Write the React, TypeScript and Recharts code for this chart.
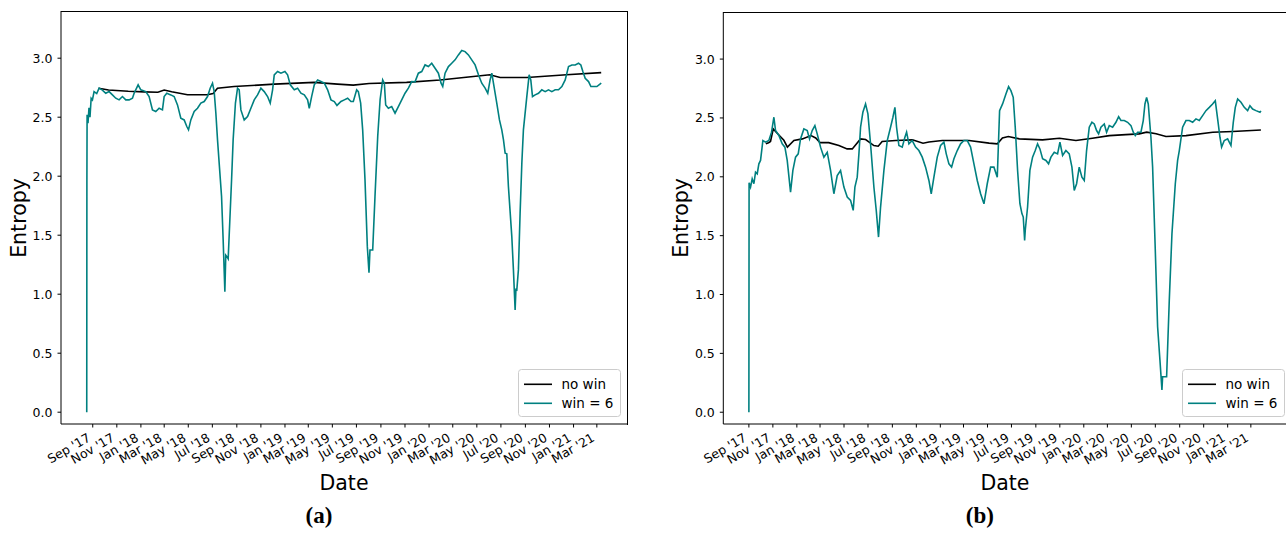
import React from "react";
import { LineChart, Line, XAxis, YAxis } from "recharts";

// ---------- axis ticks ----------
const TICK_MONTHS = ["2017-09","2017-11","2018-01","2018-03","2018-05","2018-07","2018-09","2018-11","2019-01","2019-03","2019-05","2019-07","2019-09","2019-11","2020-01","2020-03","2020-05","2020-07","2020-09","2020-11","2021-01","2021-03"];
const TICK_LABELS = ["Sep '17","Nov '17","Jan '18","Mar '18","May '18","Jul '18","Sep '18","Nov '18","Jan '19","Mar '19","May '19","Jul '19","Sep '19","Nov '19","Jan '20","Mar '20","May '20","Jul '20","Sep '20","Nov '20","Jan '21","Mar '21"];
const Y_TICKS = [0, 0.5, 1, 1.5, 2, 2.5, 3];
const SERIES_NAMES = ["no win", "win = 6"];
const PANEL_LETTERS = ["(a)", "(b)"];
const EPOCH = Date.UTC(2017, 8, 1); // day 0 = 1 Sep 2017

// ---------- panel (a): days since 1 Sep 2017 ----------
const A_WIN_DAYS = [-15.2,-14.8,-14.3,-12,-9.5,-7,-4,-0.8,3.4,10.1,16.1,24.5,33,41.4,49.9,58.3,66.8,75.2,83.7,92.1,100.6,104.8,115,121.7,134.4,142.8,151.3,159.7,168.2,176.6,180.9,187.6,197.8,206.2,214.7,223.1,231.6,238.3,242.6,248.5,257,265.4,273.9,282.3,290.8,297.5,303.4,307.7,311.9,316.1,326.3,330.4,334.7,337,339.5,343.1,351.7,355.7,361.5,366.8,371,375.3,383.7,392.2,400.6,409.1,417.5,426,434.4,442.9,449.6,455.6,459.8,468.3,476.7,486.8,493.6,500.4,510.5,519,527.4,535.9,544.3,548.5,554.5,561.2,569.7,578.1,586.6,595,603.5,611.9,618.7,628.8,637.3,645.7,654.2,660.1,668.6,672.8,678.7,683.8,689.7,695.6,699.8,702.3,709.2,715,721.9,728,734.5,738.7,742.1,748.9,757.3,765.8,774.2,782.7,791.1,799.6,808,816.4,824.9,833.4,841.8,850.3,858.7,867.2,875.6,882.4,886.6,892.5,901,909.4,917.9,926.3,934.8,943.2,951.7,960.1,968.6,977.1,985.5,994,1000.7,1006.6,1010.9,1015.1,1023.5,1030.3,1036.2,1040.5,1044.7,1048.9,1053,1061.6,1065.7,1070,1072,1074.3,1078.3,1082.6,1087,1091,1099.6,1105.5,1109.7,1114,1120.7,1129.2,1137.6,1146.1,1154.5,1163,1171.4,1179.9,1188.4,1196.8,1205.3,1213.7,1222.2,1230.6,1236.5,1241.6,1247.5,1256,1261.9,1268.6,1277.1,1285.6,1288];
const A_WIN_VALUES = [0,1.95,2.52,2.45,2.58,2.5,2.66,2.647,2.717,2.7,2.746,2.73,2.703,2.717,2.689,2.661,2.647,2.675,2.647,2.647,2.661,2.703,2.774,2.732,2.717,2.675,2.562,2.548,2.576,2.562,2.675,2.703,2.689,2.675,2.604,2.491,2.477,2.421,2.393,2.477,2.548,2.576,2.619,2.633,2.675,2.746,2.788,2.717,2.534,2.308,1.83,1.46,1.02,1.33,1.32,1.3,1.97,2.31,2.62,2.746,2.732,2.562,2.477,2.506,2.576,2.647,2.689,2.746,2.717,2.675,2.619,2.732,2.859,2.887,2.873,2.887,2.859,2.774,2.732,2.746,2.703,2.689,2.647,2.576,2.675,2.774,2.816,2.802,2.788,2.732,2.647,2.633,2.6,2.633,2.647,2.661,2.633,2.633,2.732,2.717,2.619,2.393,1.969,1.403,1.183,1.375,1.375,1.827,2.336,2.65,2.816,2.788,2.604,2.576,2.59,2.534,2.59,2.647,2.703,2.746,2.802,2.8,2.873,2.887,2.943,2.929,2.957,2.915,2.873,2.788,2.76,2.873,2.929,2.957,2.986,3.028,3.065,3.056,3.028,2.986,2.943,2.859,2.788,2.746,2.703,2.816,2.873,2.788,2.619,2.477,2.393,2.308,2.195,2.19,1.912,1.488,1.206,0.867,1.04,1.036,1.206,1.686,2.11,2.393,2.675,2.859,2.816,2.675,2.689,2.703,2.732,2.717,2.732,2.717,2.732,2.732,2.76,2.816,2.929,2.943,2.943,2.957,2.943,2.887,2.83,2.802,2.76,2.76,2.76,2.782,2.79];
const A_NOWIN_DAYS = [15,40,90,130,165,181,200,240,290,305,316,358,460,561,620,660,700,795,880,964,1006,1032,1100,1200,1288];
const A_NOWIN_VALUES = [2.745,2.73,2.72,2.715,2.712,2.73,2.715,2.69,2.69,2.7,2.745,2.76,2.78,2.795,2.78,2.772,2.785,2.795,2.815,2.845,2.86,2.836,2.836,2.86,2.878];

// ---------- panel (b) ----------
const B_WIN_DAYS = [0,0.5,4.2,8.4,12.7,16.9,21.2,25.4,29.6,35.6,42.4,50.8,57.6,63.6,67.8,76.3,84.8,91.6,97.5,106,111.9,118.7,125.5,131.4,139.9,148.4,154.3,161.1,167.9,173.8,182.3,190.8,199.3,207.8,216.2,224.7,233.2,241.7,250.2,258.7,265.4,269.7,275.6,279.9,284.1,290,296.8,302.8,309.5,318,324,329.8,335,343.5,352,360.4,366.4,371.5,375.7,381.6,390.1,396.9,401.2,407.1,415.6,424.1,432.5,441,449.5,458,463.9,470.7,479.2,487.7,496.2,502.1,508.9,515.7,521.6,530.1,538.6,547.1,555.6,564,572.5,581,589.5,598,606.4,614.9,623.4,631.9,637.8,645.4,653.9,660.7,666.6,672.5,677.6,683.6,689.5,694.6,698,701.5,703.1,709,714.9,721.7,728.5,734.4,740.4,747.2,755.7,762.4,768.4,776.9,785.3,791.3,798.1,806.5,815,821.8,827.7,833.7,840.4,847.2,853.2,859.1,865.9,872.7,878.6,884.6,889.7,895.6,904.1,910,916.8,925.3,933.8,940.6,946.5,955,963.5,972,977.9,983,988.9,997.4,1003.3,1007.6,1011.8,1016,1022.8,1027.1,1033.9,1039.8,1045.7,1050.8,1052.5,1062.7,1069.5,1076.3,1084.8,1090.7,1095,1103.4,1111.9,1120.4,1128.9,1137.3,1145.8,1154.3,1162.8,1171.3,1179.7,1186.5,1192.5,1198.4,1202.6,1209.4,1217.9,1226.4,1232.3,1237.4,1243.4,1251.9,1260.3,1268.8,1274.7,1281.5,1290,1300.2,1302.6];
const B_WIN_VALUES = [0,1.95,1.913,1.983,1.941,2.04,2.026,2.11,2.139,2.308,2.294,2.308,2.379,2.506,2.393,2.351,2.28,2.252,2.139,1.87,2.054,2.167,2.195,2.322,2.407,2.393,2.322,2.393,2.435,2.365,2.252,2.167,2.209,2.054,1.856,2.011,2.054,1.913,1.828,1.8,1.715,1.913,1.997,2.195,2.421,2.548,2.619,2.534,2.28,1.913,1.715,1.488,1.743,2.054,2.308,2.421,2.506,2.59,2.421,2.266,2.252,2.336,2.379,2.28,2.308,2.252,2.223,2.167,2.082,1.969,1.856,1.997,2.167,2.266,2.294,2.195,2.11,2.082,2.153,2.223,2.28,2.308,2.308,2.252,2.11,1.969,1.856,1.771,1.941,2.082,2.082,1.997,2.562,2.619,2.703,2.766,2.732,2.675,2.421,2.054,1.771,1.687,1.658,1.46,1.546,1.743,2.054,2.167,2.223,2.28,2.237,2.153,2.139,2.11,2.167,2.209,2.195,2.294,2.181,2.223,2.195,2.082,1.884,1.941,2.082,1.997,1.969,2.223,2.421,2.463,2.449,2.393,2.365,2.421,2.449,2.379,2.435,2.421,2.463,2.511,2.478,2.478,2.463,2.435,2.379,2.35,2.379,2.379,2.478,2.619,2.675,2.619,2.336,2.082,1.376,0.726,0.444,0.19,0.302,0.302,0.952,1.517,1.941,2.139,2.223,2.421,2.478,2.478,2.463,2.492,2.478,2.52,2.562,2.59,2.619,2.647,2.492,2.336,2.252,2.308,2.322,2.266,2.463,2.59,2.661,2.633,2.59,2.562,2.604,2.576,2.562,2.548,2.56];
const B_NOWIN_DAYS = [43,50,55,62,72,89,98,114.5,136,158,170,181,203,229,250,263,284,297,318,329,339,373,416,443,458,492,560,611,632,645,660,688,747,790,832,874,917,959,993,1012,1036,1061,1112,1180,1231,1302.6];
const B_NOWIN_VALUES = [2.28,2.29,2.3,2.407,2.37,2.31,2.252,2.308,2.322,2.35,2.33,2.29,2.29,2.265,2.237,2.237,2.322,2.317,2.265,2.26,2.3,2.308,2.314,2.285,2.295,2.308,2.308,2.286,2.28,2.33,2.342,2.322,2.314,2.328,2.308,2.328,2.35,2.358,2.365,2.379,2.365,2.342,2.35,2.379,2.385,2.398];

const TEAL = "#008080";
const FONT = "'DejaVu Sans', sans-serif";
const TICK_FONT = 12.5;
const LINE_W = 1.6;

const tickDays = TICK_MONTHS.map((m) => {
  const [y, mo] = m.split("-").map(Number);
  return Math.round((Date.UTC(y, mo - 1, 1) - EPOCH) / 86400000);
});

const zip = (days: number[], vals: number[]) => days.map((d, i) => ({ day: d, v: vals[i] }));

const XTick = (props: any) => {
  const { x, y, payload } = props;
  const i = tickDays.indexOf(payload.value);
  const px = x - 1.4;
  const py = y + 12.8;
  return (
    <text x={px} y={py} transform={`rotate(-30, ${px}, ${py})`} textAnchor="end" fontSize={TICK_FONT} fill="#000" fontFamily={FONT}>
      {TICK_LABELS[i]}
    </text>
  );
};

type PanelProps = {
  left: number;
  plotLeft: number;
  plotRight: number;
  plotTop: number;
  domain: [number, number];
  win: { day: number; v: number }[];
  nowin: { day: number; v: number }[];
  letter: string;
  legendGap: number;
};

const W = 660;
const H = 534;
const PLOT_BOTTOM = 424;
const XAXIS_H = 60;
const YAXIS_W = 40;

function Panel({ left, plotLeft, plotRight, plotTop, domain, win, nowin, letter, legendGap }: PanelProps) {
  const margin = {
    top: plotTop,
    left: plotLeft - left - YAXIS_W,
    right: left + W - plotRight,
    bottom: H - PLOT_BOTTOM - XAXIS_H,
  };
  const cx = (plotLeft + plotRight) / 2 - left;
  const legendRight = plotRight - left - legendGap;
  const lx = legendRight - 102;
  return (
    <div style={{ position: "absolute", left, top: 0, width: W, height: H }}>
      <LineChart width={W} height={H} margin={margin}>
        <XAxis
          type="number"
          dataKey="day"
          domain={domain}
          ticks={tickDays}
          interval={0}
          allowDataOverflow
          tick={<XTick />}
          tickSize={3.5}
          tickMargin={0}
          height={XAXIS_H}
          stroke="#000"
          axisLine={{ stroke: "#000", strokeWidth: 1 }}
          tickLine={{ stroke: "#000", strokeWidth: 1 }}
        />
        <YAxis
          type="number"
          domain={[-0.1, 3.4]}
          ticks={Y_TICKS}
          interval={0}
          allowDataOverflow
          width={YAXIS_W}
          tickSize={3.5}
          tickMargin={5}
          tickFormatter={(v: number) => v.toFixed(1)}
          tick={{ fontSize: TICK_FONT, fill: "#000", fontFamily: FONT }}
          axisLine={{ stroke: "#000", strokeWidth: 1 }}
          tickLine={{ stroke: "#000", strokeWidth: 1 }}
        />
        <Line
          data={nowin}
          dataKey="v"
          name={SERIES_NAMES[0]}
          type="linear"
          stroke="#000"
          strokeWidth={LINE_W}
          dot={false}
          activeDot={false}
          isAnimationActive={false}
        />
        <Line
          data={win}
          dataKey="v"
          name={SERIES_NAMES[1]}
          type="linear"
          stroke={TEAL}
          strokeWidth={LINE_W}
          dot={false}
          activeDot={false}
          isAnimationActive={false}
        />
      </LineChart>
      {/* frame (top and right spines) */}
      <div
        style={{
          position: "absolute",
          left: plotLeft - left - 0.5,
          top: plotTop - 0.5,
          width: plotRight - plotLeft,
          height: PLOT_BOTTOM - plotTop,
          borderTop: "1px solid #000",
          borderRight: "1px solid #000",
          pointerEvents: "none",
        }}
      />
      {/* axis labels */}
      <div style={{ position: "absolute", left: cx - 60, width: 120, top: 470, textAlign: "center", fontFamily: FONT, fontSize: 20.5, lineHeight: "26px", color: "#000" }}>Date</div>
      <div
        style={{
          position: "absolute",
          left: plotLeft - left - 102,
          top: (plotTop + PLOT_BOTTOM) / 2 - 13,
          width: 120,
          textAlign: "center",
          fontFamily: FONT,
          fontSize: 20.5,
          lineHeight: "26px",
          transform: "rotate(-90deg)",
          color: "#000",
        }}
      >
        Entropy
      </div>
      <div style={{ position: "absolute", left: cx - 25 - 40, width: 80, top: 503, textAlign: "center", fontFamily: "'Liberation Serif', serif", fontWeight: "bold", fontSize: 23, lineHeight: "26px", color: "#000" }}>{letter}</div>
      {/* legend */}
      <svg style={{ position: "absolute", left: lx, top: 369 }} width={103} height={49}>
        <rect x={0.5} y={0.5} width={102} height={47} rx={3} ry={3} fill="rgba(255,255,255,0.8)" stroke="#cccccc" strokeWidth={1} />
        <line x1={6} x2={34} y1={15.3} y2={15.3} stroke="#000" strokeWidth={LINE_W} />
        <line x1={6} x2={34} y1={34.3} y2={34.3} stroke={TEAL} strokeWidth={LINE_W} />
        <text x={43.5} y={20} fontFamily={FONT} fontSize={13.5} fill="#000">{SERIES_NAMES[0]}</text>
        <text x={43.5} y={39} fontFamily={FONT} fontSize={13.5} fill="#000">{SERIES_NAMES[1]}</text>
      </svg>
    </div>
  );
}

export default function App() {
  return (
    <div style={{ position: "absolute", left: 0, top: 0, width: 1286, height: 534, overflow: "hidden", background: "#fff", fontFamily: FONT }}>
      <Panel
        left={0}
        plotLeft={61}
        plotRight={627}
        plotTop={11}
        domain={[-80.4, 1353.4]}
        win={zip(A_WIN_DAYS, A_WIN_VALUES)}
        nowin={zip(A_NOWIN_DAYS, A_NOWIN_VALUES)}
        letter={PANEL_LETTERS[0]}
        legendGap={7}
      />
      <Panel
        left={660}
        plotLeft={723.3}
        plotRight={1286.5}
        plotTop={12}
        domain={[-65.1, 1367.7]}
        win={zip(B_WIN_DAYS, B_WIN_VALUES)}
        nowin={zip(B_NOWIN_DAYS, B_NOWIN_VALUES)}
        letter={PANEL_LETTERS[1]}
        legendGap={3}
      />
    </div>
  );
}
